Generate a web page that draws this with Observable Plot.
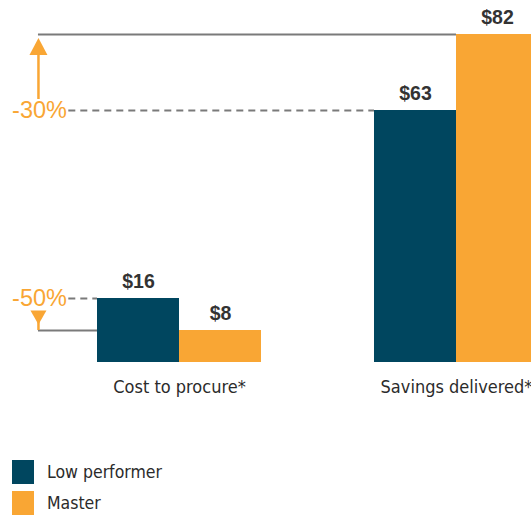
<!DOCTYPE html>
<html>
<head>
<meta charset="utf-8">
<script src="https://cdn.jsdelivr.net/npm/d3@7"></script>
<script src="https://cdn.jsdelivr.net/npm/@observablehq/plot@0.6"></script>
<style>
  html, body { margin: 0; padding: 0; background: #fff; overflow: hidden; width: 531px; height: 515px; }
  #chart svg { display: block; }
  .legend { margin-top: 10px; padding-left: 12px; font-family: "DejaVu Sans Condensed", "DejaVu Sans", sans-serif; font-size: 17.5px; color: #2b2b2b; }
  .legend .row { display: flex; align-items: center; height: 24px; margin-bottom: 7px; }
  .legend .sw { width: 22px; height: 24px; margin-right: 13px; }
</style>
</head>
<body>
<div id="chart"></div>
<div class="legend" id="legend"></div>
<script>
// ---- data ----
const categories = ["Cost to procure*", "Savings delivered*"];
const series = ["Low performer", "Master"];
const lowPerformer = [16, 63];
const master = [8, 82];
const changeLabels = ["-50%", "-30%"];
const colors = ["#00465f", "#f9a634"];

// ---- layout parameters (in bar-width units of the x scale) ----
const groupGap = 1.378;   // gap between groups
const arrowX = -0.72;     // position of the change arrows
const labelX = -0.36;     // right end of change labels

const groupStart = i => i * (2 + groupGap);

const bars = categories.flatMap((c, i) => series.map((s, j) => ({
  category: c, series: s,
  value: j === 0 ? lowPerformer[i] : master[i],
  x1: groupStart(i) + j, x2: groupStart(i) + j + 1
})));

const annotations = categories.map((c, i) => ({
  category: c, low: lowPerformer[i], master: master[i], label: changeLabels[i],
  lowStart: groupStart(i), masterStart: groupStart(i) + 1,
  up: master[i] > lowPerformer[i],
  top: Math.max(lowPerformer[i], master[i]),
  bottom: Math.min(lowPerformer[i], master[i])
}));

const gray = "#7a7a7a";
const orange = colors[1];
const condensed = "DejaVu Sans Condensed, DejaVu Sans, sans-serif";

// arrow-head symbols: tip at the symbol origin
const headUp = {draw(ctx) { ctx.moveTo(0, 0); ctx.lineTo(9, 17); ctx.lineTo(-9, 17); ctx.closePath(); }};
const headDown = {draw(ctx) { ctx.moveTo(0, 0); ctx.lineTo(8, -14); ctx.lineTo(-8, -14); ctx.closePath(); }};

const chart = Plot.plot({
  width: 531,
  height: 450,
  marginLeft: 0, marginRight: 0, marginTop: 0, marginBottom: 0,
  x: {domain: [-97 / 82, (531 - 97) / 82], range: [0, 531], axis: null},
  y: {domain: [0, 82], range: [362, 34], axis: null},
  color: {domain: series, range: colors},
  marks: [
    // solid reference line at the master value
    Plot.ruleY(annotations, {y: "master", x1: arrowX, x2: "masterStart", stroke: gray, strokeWidth: 2.2}),
    // dashed reference line at the low-performer value
    Plot.ruleY(annotations, {y: "low", x1: labelX + 0.01, x2: "lowStart", stroke: gray, strokeWidth: 2.2, strokeDasharray: "7,5"}),
    // bars
    Plot.rectY(bars, {x1: "x1", x2: "x2", y: "value", fill: "series"}),
    // value labels
    Plot.text(bars, {x: d => (d.x1 + d.x2) / 2, y: "value", text: d => "$" + d.value, dy: -17,
      fontSize: 19.5, fontWeight: "bold", fill: "#333", fontFamily: "Liberation Sans, Arial, sans-serif"}),
    // category labels
    Plot.text(categories, {x: (d, i) => groupStart(i) + 1, y: () => 0, text: d => d, dy: 25,
      fontSize: 18, fill: "#2b2b2b", fontFamily: condensed}),
    // change labels
    Plot.text(annotations, {x: labelX, y: "low", text: "label", textAnchor: "end", dx: -1,
      fontSize: 23.5, fontWeight: 300, fill: orange, fontFamily: "Liberation Sans, Arial, sans-serif"}),
    // arrow stems (y1 = upper value, y2 = lower value)
    Plot.ruleX(annotations.filter(d => d.up), {x: arrowX, y1: "top", y2: "bottom", stroke: orange, strokeWidth: 2.5, insetTop: 10, insetBottom: 11}),
    Plot.ruleX(annotations.filter(d => !d.up), {x: arrowX, y1: "top", y2: "bottom", stroke: orange, strokeWidth: 2.5, insetTop: 13}),
    // arrow heads
    Plot.dot(annotations.filter(d => d.up), {x: arrowX, y: "master", symbol: headUp, fill: orange, stroke: "none", dy: 3.5}),
    Plot.dot(annotations.filter(d => !d.up), {x: arrowX, y: "master", symbol: headDown, fill: orange, stroke: "none", dy: -6})
  ]
});
document.getElementById("chart").appendChild(chart);

// legend
const legend = document.getElementById("legend");
series.forEach((s, i) => {
  const row = document.createElement("div");
  row.className = "row";
  const sw = document.createElement("div");
  sw.className = "sw";
  sw.style.background = colors[i];
  const t = document.createElement("span");
  t.textContent = s;
  row.appendChild(sw); row.appendChild(t);
  legend.appendChild(row);
});
</script>
</body>
</html>
